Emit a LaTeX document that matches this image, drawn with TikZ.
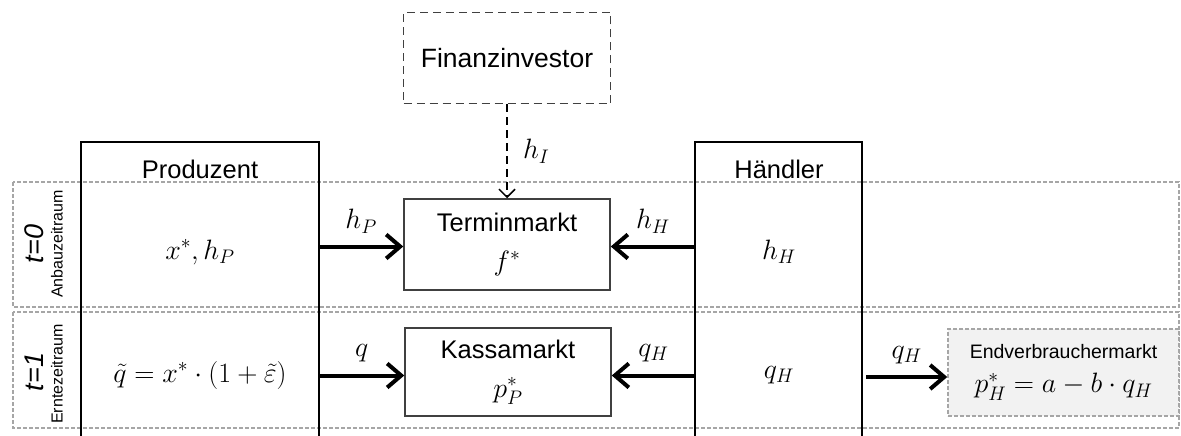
\documentclass[tikz,border=0pt]{standalone}
\usepackage{fix-cm}
\usepackage{amsmath}
\usepackage{fontspec}
\setmainfont{Liberation Sans}
\usetikzlibrary{arrows.meta}
\definecolor{boxgray}{HTML}{404040}
\definecolor{rowgray}{HTML}{A6A6A6}
\definecolor{endfill}{HTML}{F2F2F2}
\newcommand{\mainsize}{\fontsize{25.5}{33}\selectfont}
\newcommand{\mathsize}{\fontsize{28}{33}\selectfont}
\newcommand{\midsize}{\fontsize{19.5}{23}\selectfont}
\newcommand{\smallsize}{\fontsize{16}{19}\selectfont}
\tikzset{
  market/.style={draw=boxgray, line width=1.5pt, align=center, font=\mainsize,
    minimum width=206pt, inner sep=0pt},
  colline/.style={draw=black, line width=1.5pt},
  rowline/.style={draw=rowgray, line width=1.2pt, dash pattern=on 4pt off 2pt},
  flow/.style={line width=4pt, -{Straight Barb[length=14pt,width=24pt]}},
  title/.style={font=\mainsize},
  label/.style={font=\mathsize}
}
\begin{document}
\begin{tikzpicture}[x=1pt,y=-1pt]
\useasboundingbox (0,0) rectangle (1181,436);
% Zeitraeume
\draw[rowline] (13,182) rectangle (1179,307);
\draw[rowline] (13,312) rectangle (1179,428);
\node[rotate=90, font=\fontsize{27}{30}\selectfont\itshape] (tnull) at (34,244) {t=0};
\node[rotate=90, font=\smallsize] (anbau) at (57,244) {Anbauzeitraum};
\node[rotate=90, font=\fontsize{27}{30}\selectfont\itshape] (teins) at (34,372) {t=1};
\node[rotate=90, font=\smallsize] (ernte) at (57,374) {Erntezeitraum};
% Akteure
\draw[colline] (81,436) |- (319,142) -- (319,436);
\draw[colline] (695,436) |- (862,142) -- (862,436);
\node[title] (prod) at (200,169) {Produzent};
\node[label] (prodA) at (200,252) {$x^*, h_P$};
\node[label] (prodB) at (200,375) {$\tilde{q} = x^* \cdot (1+\tilde{\varepsilon})$};
\node[title] (haend) at (779,169) {Händler};
\node[label] (haendA) at (779,252) {$h_H$};
\node[label] (haendB) at (779,375) {$q_H$};
% Maerkte
\node[market, font=\fontsize{26.5}{33}\selectfont, dash pattern=on 8pt off 5pt, minimum width=207pt, minimum height=91pt] (finanz) at (507,58) {Finanzinvestor};
\node[market, minimum height=91pt] (termin) at (507,244.5) {Terminmarkt\\[6pt]{\mathsize $f^*$}};
\node[market, minimum height=88pt] (kassa) at (508,372) {Kassamarkt\\[6pt]{\mathsize $p_P^*$}};
\node[market, draw=rowgray, fill=endfill, dash pattern=on 4pt off 2pt, minimum width=231pt, minimum height=87pt] (endmarkt) at (1063.5,372.5)
  {{\midsize Endverbrauchermarkt}\\[1pt]{\mathsize $p_H^* = a - b \cdot q_H$}};
% Stroeme
\coordinate (prodT) at (319,246.5);
\coordinate (prodK) at (319,375.5);
\coordinate (haendT) at (695,246.5);
\coordinate (haendK) at (695,375.5);
\coordinate (haendE) at (866,377);
\draw[flow] (prodT) -- (prodT -| termin.west) node[label, midway, above=8pt] (lhp) {$h_P$};
\draw[flow] (haendT) -- (haendT -| termin.east) node[label, midway, above=8pt] (lhh) {$h_H$};
\draw[flow] (prodK) -- (prodK -| kassa.west) node[label, midway, above=8pt] (lq) {$q$};
\draw[flow] (haendK) -- (haendK -| kassa.east) node[label, midway, above=8pt] (lqh) {$q_H$};
\draw[flow] (haendE) -- (haendE -| endmarkt.west) node[label, midway, above=8pt] (lqe) {$q_H$};
\draw[line width=1.5pt, dash pattern=on 8pt off 5pt, -{Straight Barb[length=8pt,width=16pt]}] (finanz) -- (termin) node[label, midway, right=12pt] (lhi) {$h_I$};
\end{tikzpicture}
\end{document}
